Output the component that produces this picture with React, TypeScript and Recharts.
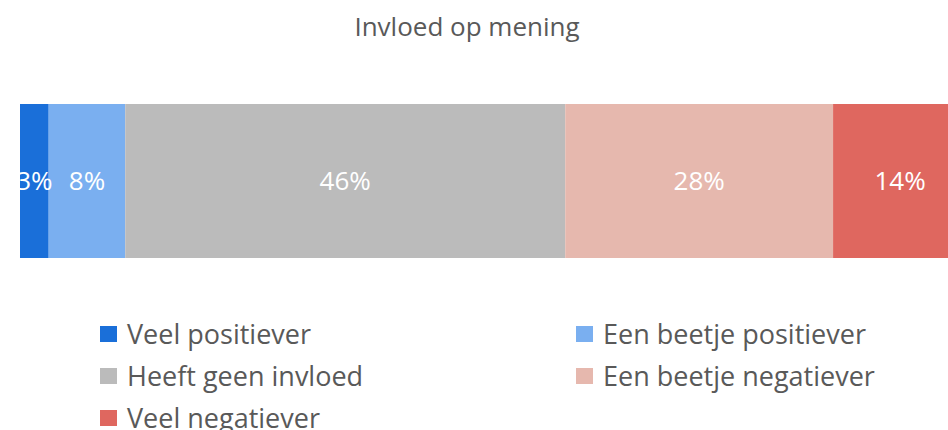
import React from "react";
import { Bar, BarChart, LabelList, XAxis, YAxis } from "recharts";

const categories = ["Invloed op mening"];
const seriesNames = [
  "Veel positiever",
  "Een beetje positiever",
  "Heeft geen invloed",
  "Een beetje negatiever",
  "Veel negatiever",
];
const seriesValues = [3, 8, 46, 28, 14];
const seriesColors = ["#1a6fd9", "#7aaff0", "#bbbbbb", "#e6b8ae", "#df675f"];

const data = categories.map((name) => {
  const row: Record<string, string | number> = { name };
  seriesNames.forEach((s, i) => {
    row[s] = seriesValues[i];
  });
  return row;
});

const font = '"Open Sans", sans-serif';

export default function App() {
  return (
    <div
      style={{
        position: "absolute",
        left: 0,
        top: 0,
        width: 948,
        height: 430,
        overflow: "hidden",
        background: "#fff",
        fontFamily: font,
      }}
    >
      <div
        style={{
          position: "absolute",
          top: 8,
          left: 0,
          width: 934,
          textAlign: "center",
          fontSize: 26,
          lineHeight: "36px",
          color: "#595959",
        }}
      >
        Invloed op mening
      </div>
      <BarChart
        width={980}
        height={430}
        data={data}
        layout="vertical"
        barCategoryGap={0}
        margin={{ top: 104, right: 13, bottom: 172, left: 20 }}
      >
        <XAxis type="number" domain={[0, 99]} hide />
        <YAxis type="category" dataKey="name" hide />
        {seriesNames.map((s, i) => (
          <Bar
            key={s}
            dataKey={s}
            stackId="a"
            fill={seriesColors[i]}
            isAnimationActive={false}
          >
            <LabelList
              dataKey={s}
              position="center"
              fill="#ffffff"
              fontSize={26}
              fontFamily={font}
              formatter={(v: number) => `${v}%`}
            />
          </Bar>
        ))}
      </BarChart>
      {seriesNames.map((s, i) => (
        <div
          key={s}
          style={{
            position: "absolute",
            left: i % 2 === 0 ? 100 : 576,
            top: 316 + Math.floor(i / 2) * 42,
            height: 36,
            display: "flex",
            alignItems: "center",
            fontSize: 27,
            lineHeight: "36px",
            color: "#595959",
            whiteSpace: "nowrap",
          }}
        >
          <span
            style={{
              display: "inline-block",
              width: 17,
              height: 16,
              background: seriesColors[i],
              marginRight: 10,
            }}
          />
          {s}
        </div>
      ))}
    </div>
  );
}
